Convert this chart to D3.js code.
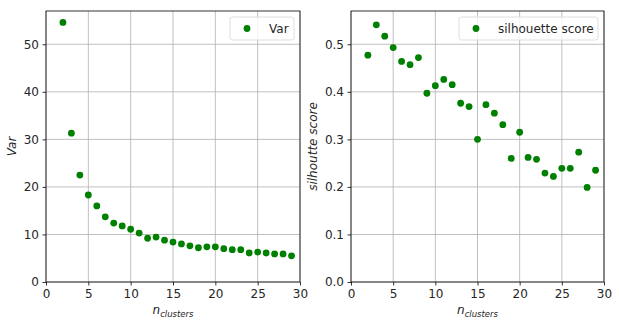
<!DOCTYPE html>
<meta charset="utf-8">
<head>
    <meta charset="utf-8">
    <script src="https://d3js.org/d3.v7.min.js"></script>
    <style>
        body { margin: 0; background: #fff; }
        text { font-family: "DejaVu Sans", sans-serif; fill: #262626; }
    </style>
</head>
<body>
    <svg width="619" height="326"></svg>
    <script>
        // number of clusters
        var nClusters = [2, 3, 4, 5, 6, 7, 8, 9, 10, 11, 12, 13, 14, 15, 16, 17, 18, 19, 20, 21, 22, 23, 24, 25, 26, 27, 28, 29];
        var varValues = [54.6, 31.3, 22.5, 18.3, 16.0, 13.7, 12.4, 11.8, 11.1, 10.3, 9.2, 9.45, 8.8, 8.4, 8.0, 7.6, 7.2, 7.4, 7.4, 7.0, 6.8, 6.8, 6.1, 6.3, 6.1, 5.9, 5.9, 5.5];
        var silValues = [0.477, 0.541, 0.517, 0.493, 0.464, 0.457, 0.472, 0.397, 0.413, 0.426, 0.415, 0.376, 0.369, 0.300, 0.373, 0.355, 0.331, 0.260, 0.315, 0.262, 0.258, 0.229, 0.222, 0.239, 0.239, 0.273, 0.199, 0.235];
        var xTicks = [0, 5, 10, 15, 20, 25, 30];
        var varTicks = [0, 10, 20, 30, 40, 50];
        var silTicks = [0, 0.1, 0.2, 0.3, 0.4, 0.5];

        var svg = d3.select("svg");
        var plotTop = 11, plotBottom = 282;

        function panel(opts) {
            var g = svg.append("g");
            var x = d3.scaleLinear().domain([0, 30]).range([opts.left, opts.right]);
            var y = d3.scaleLinear().domain([0, opts.ymax]).range([plotBottom, plotTop]);

            // grid
            g.selectAll(".gx").data(xTicks).enter().append("line")
                .attr("x1", d => x(d)).attr("x2", d => x(d))
                .attr("y1", plotTop).attr("y2", plotBottom)
                .attr("stroke", "#b0b0b0").attr("stroke-width", 0.8);
            g.selectAll(".gy").data(opts.ticks).enter().append("line")
                .attr("x1", opts.left).attr("x2", opts.right)
                .attr("y1", d => y(d)).attr("y2", d => y(d))
                .attr("stroke", "#b0b0b0").attr("stroke-width", 0.8);

            // points
            g.selectAll("circle").data(nClusters).enter().append("circle")
                .attr("cx", d => x(d))
                .attr("cy", (d, i) => y(opts.values[i]))
                .attr("r", 3.4)
                .attr("fill", "green");

            // axes
            var xa = g.append("g").attr("transform", "translate(0," + plotBottom + ")")
                .call(d3.axisBottom(x).tickValues(xTicks).tickSize(3.5).tickPadding(3.5).tickFormat(d3.format("d")));
            var ya = g.append("g").attr("transform", "translate(" + opts.left + ",0)")
                .call(d3.axisLeft(y).tickValues(opts.ticks).tickSize(3.5).tickPadding(3.5).tickFormat(opts.fmt));
            [xa, ya].forEach(a => {
                a.select(".domain").remove();
                a.selectAll("line").attr("stroke", "#000").attr("stroke-width", 0.8);
                a.selectAll("text").style("font-size", "12px").attr("fill", "#262626")
                    .style("font-family", "DejaVu Sans, sans-serif");
            });

            // frame
            g.append("rect")
                .attr("x", opts.left).attr("y", plotTop)
                .attr("width", opts.right - opts.left).attr("height", plotBottom - plotTop)
                .attr("fill", "none").attr("stroke", "#000").attr("stroke-width", 0.8);

            // x label
            var xl = g.append("text")
                .attr("x", (opts.left + opts.right) / 2).attr("y", 314)
                .attr("text-anchor", "middle")
                .style("font-size", "12px").style("font-style", "italic");
            xl.append("tspan").text("n");
            xl.append("tspan").attr("dy", 3).style("font-size", "8.5px").text("clusters");

            // y label
            g.append("text")
                .attr("transform", "translate(" + opts.ylabelX + "," + ((plotTop + plotBottom) / 2) + ") rotate(-90)")
                .attr("text-anchor", "middle")
                .style("font-size", "12px").style("font-style", "italic")
                .text(opts.ylabel);

            // legend
            var lg = g.append("g");
            lg.append("rect")
                .attr("x", opts.legX).attr("y", 17)
                .attr("width", opts.right - 6 - opts.legX).attr("height", 23)
                .attr("rx", 2.5)
                .attr("fill", "#fff").attr("fill-opacity", 0.8)
                .attr("stroke", "#d5d5d5").attr("stroke-width", 0.8);
            lg.append("circle")
                .attr("cx", opts.legX + 17).attr("cy", 28.5)
                .attr("r", 3.4).attr("fill", "green");
            lg.append("text")
                .attr("x", opts.legX + 39).attr("y", 33)
                .style("font-size", "12px")
                .text(opts.legend);
        }

        panel({
            left: 46, right: 300, ymax: 57.0, values: varValues, ticks: varTicks,
            fmt: d3.format("d"), ylabel: "Var", ylabelX: 16, legend: "Var", legX: 230
        });
        panel({
            left: 351, right: 604, ymax: 0.570, values: silValues, ticks: silTicks,
            fmt: d3.format(".1f"), ylabel: "silhoutte score", ylabelX: 317, legend: "silhouette score", legX: 459
        });
    </script>
</body>
</html>
